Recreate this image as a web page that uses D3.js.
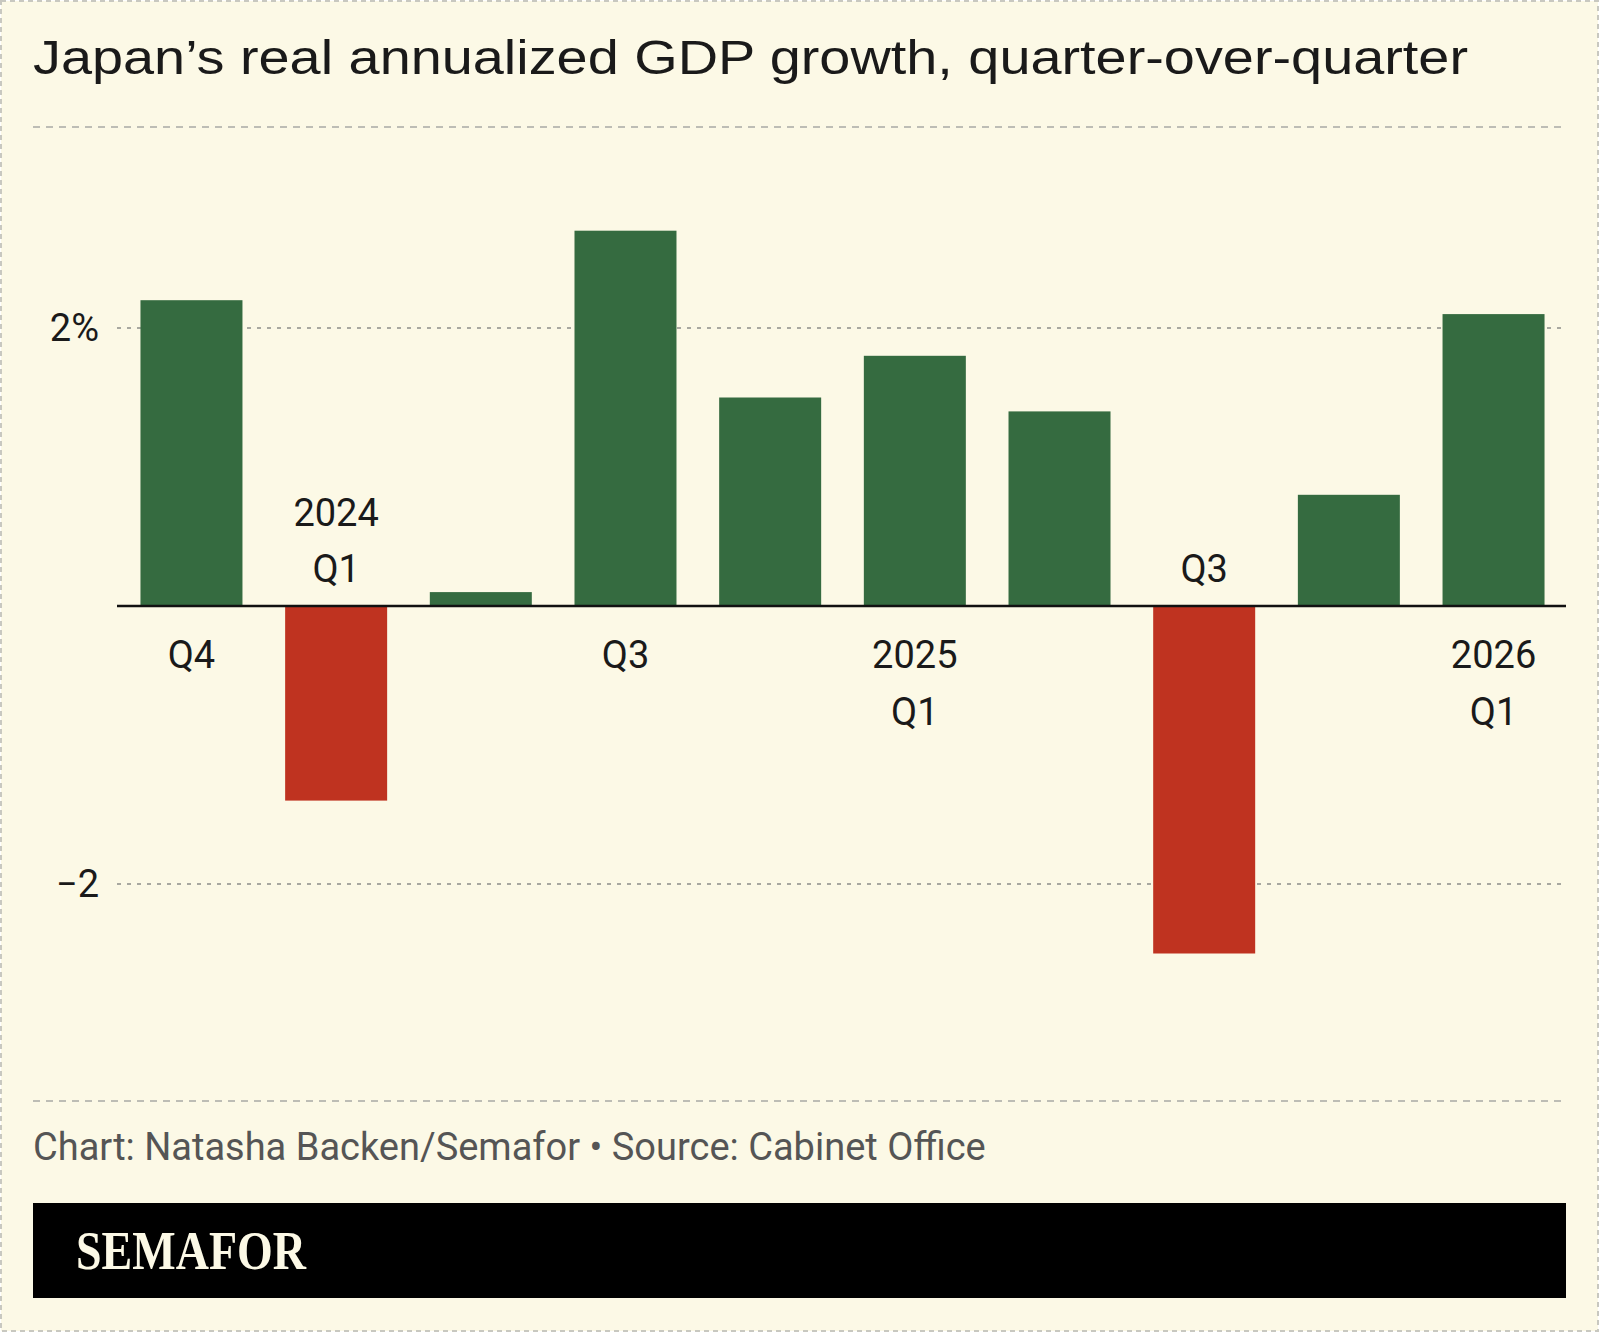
<!DOCTYPE html><html><head><meta charset="utf-8"><script src="https://cdn.jsdelivr.net/npm/d3@7"></script>
<style>body{margin:0;background:#fff}</style></head><body><svg id="c" width="1599" height="1332"></svg><script>
const quarters=["2023 Q4","2024 Q1","2024 Q2","2024 Q3","2024 Q4","2025 Q1","2025 Q2","2025 Q3","2025 Q4","2026 Q1"];
const values=[2.2,-1.4,0.1,2.7,1.5,1.8,1.4,-2.5,0.8,2.1];
const labels=[["Q4"],["2024","Q1"],[],["Q3"],[],["2025","Q1"],[],["Q3"],[],["2026","Q1"]];
const yTicks=[2,-2];
const svg=d3.select("#c");
svg.append("rect").attr("x",1).attr("y",1).attr("width",1597).attr("height",1330).attr("fill","#fcf9e6").attr("stroke","#c8c8c0").attr("stroke-width",2).attr("stroke-dasharray","5,4");
const font="Roboto, 'Noto Sans', sans-serif";
svg.append("text").attr("x",33).attr("y",74).attr("font-family","'Liberation Sans',Arial,sans-serif").attr("font-size",49).attr("textLength",1435).attr("lengthAdjust","spacingAndGlyphs").attr("fill","#1a1a1a").text("Japan’s real annualized GDP growth, quarter-over-quarter");
[127,1101].forEach(y=>svg.append("line").attr("x1",33).attr("x2",1566).attr("y1",y).attr("y2",y).attr("stroke","#bdbdb5").attr("stroke-width",2).attr("stroke-dasharray","7,6"));
const x=d3.scaleBand().domain(quarters).range([126,1559]).paddingInner(0.295).paddingOuter(0.1);
const y=d3.scaleLinear().domain([-2,2]).range([884,328]);
yTicks.forEach(t=>{
 svg.append("line").attr("x1",117).attr("x2",1566).attr("y1",y(t)).attr("y2",y(t)).attr("stroke","#a8a8a0").attr("stroke-width",2).attr("stroke-dasharray","4,6");
 svg.append("text").attr("x",99).attr("y",y(t)+13).attr("text-anchor","end").attr("font-family",font).attr("font-size",38).attr("fill","#1a1a1a").text(t>0?t+"%":"−"+Math.abs(t));
});
svg.selectAll(".b").data(quarters).enter().append("rect").attr("x",d=>x(d)).attr("width",x.bandwidth())
 .attr("y",(d,i)=>y(Math.max(0,values[i]))).attr("height",(d,i)=>Math.abs(y(values[i])-y(0)))
 .attr("fill",(d,i)=>values[i]>=0?"#356b40":"#bf3320");
svg.append("line").attr("x1",117).attr("x2",1566).attr("y1",y(0)).attr("y2",y(0)).attr("stroke","#111").attr("stroke-width",2.5);
quarters.forEach((q,i)=>{
 const L=labels[i]; if(!L.length)return;
 const cx=x(q)+x.bandwidth()/2;
 let ys;
 if(values[i]<0){ys=L.length===2?[y(0)-80,y(0)-24]:[y(0)-24];}
 else{ys=L.length===2?[y(0)+62,y(0)+119]:[y(0)+62];}
 L.forEach((s,j)=>svg.append("text").attr("x",cx).attr("y",ys[j]).attr("text-anchor","middle").attr("font-family",font).attr("font-size",38).attr("fill","#1a1a1a").text(s));
});
svg.append("text").attr("x",33).attr("y",1160).attr("font-family","'Liberation Sans Narrow','Roboto',sans-serif").attr("font-size",38).attr("fill","#555").text("Chart: Natasha Backen/Semafor • Source: Cabinet Office");
svg.append("rect").attr("x",33).attr("y",1203).attr("width",1533).attr("height",95).attr("fill","#000");
svg.append("text").attr("x",76).attr("y",1269).attr("font-family","'Liberation Serif','DejaVu Serif',serif").attr("font-weight","bold").attr("font-size",54).attr("textLength",230).attr("lengthAdjust","spacingAndGlyphs").attr("fill","#fcf9e6").text("SEMAFOR");
</script></body></html>
